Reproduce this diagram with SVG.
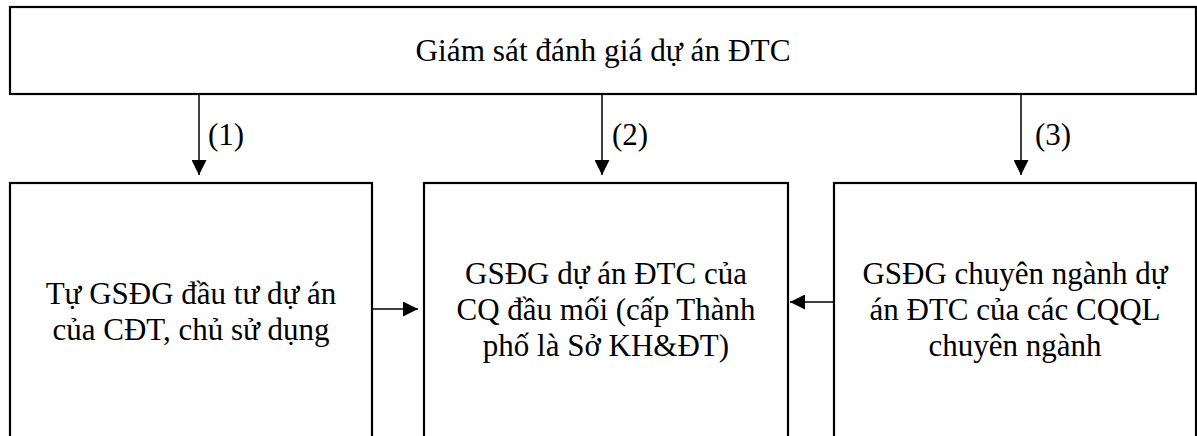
<svg xmlns="http://www.w3.org/2000/svg" width="1197" height="436" viewBox="0 0 1197 436">
<style>
.box{fill:#fff;stroke:#000;stroke-width:2.2}
.t{font-size:31px;fill:#000;text-anchor:middle}
.lbl{font-size:31px;fill:#000}
.c{stroke:#000;stroke-width:1.5;fill:none}
</style>
<defs>
<marker id="ah" markerWidth="15" markerHeight="15" refX="15" refY="7.5" orient="auto" markerUnits="userSpaceOnUse">
<path d="M0,0 L15,7.5 L0,15 Z" fill="#000"/>
</marker>
</defs>
<rect width="1197" height="436" fill="#fff"/>
<g font-family="'Liberation Serif', 'Times New Roman', Times, 'DejaVu Serif', serif">
<g id="top">
<rect class="box" x="10" y="7" width="1186" height="87"/>
<text class="t" x="603" y="61" style="font-size:31.3px">Giám sát đánh giá dự án ĐTC</text>
</g>
<g id="left">
<rect class="box" x="10" y="183" width="362" height="280"/>
<text class="t" x="191" y="304">Tự GSĐG đầu tư dự án</text>
<text class="t" x="191" y="340">của CĐT, chủ sử dụng</text>
</g>
<g id="middle">
<rect class="box" x="424" y="183" width="364" height="280"/>
<text class="t" x="606" y="284">GSĐG dự án ĐTC của</text>
<text class="t" x="606" y="320">CQ đầu mối (cấp Thành</text>
<text class="t" x="606" y="356">phố là Sở KH&amp;ĐT)</text>
</g>
<g id="right">
<rect class="box" x="834" y="183" width="362" height="280"/>
<text class="t" x="1015" y="284">GSĐG chuyên ngành dự</text>
<text class="t" x="1015" y="320">án ĐTC của các CQQL</text>
<text class="t" x="1015" y="356">chuyên ngành</text>
</g>
<g id="connectors">
<line class="c" x1="199" y1="95" x2="199" y2="175" marker-end="url(#ah)"/>
<line class="c" x1="602" y1="95" x2="602" y2="175" marker-end="url(#ah)"/>
<line class="c" x1="1021" y1="95" x2="1021" y2="175" marker-end="url(#ah)"/>
<line class="c" x1="373" y1="309" x2="418" y2="309" marker-end="url(#ah)"/>
<line class="c" x1="833" y1="302" x2="790" y2="302" marker-end="url(#ah)"/>
<text class="lbl" x="208" y="145">(1)</text>
<text class="lbl" x="612" y="145">(2)</text>
<text class="lbl" x="1035" y="145">(3)</text>
</g>
</g>
</svg>
